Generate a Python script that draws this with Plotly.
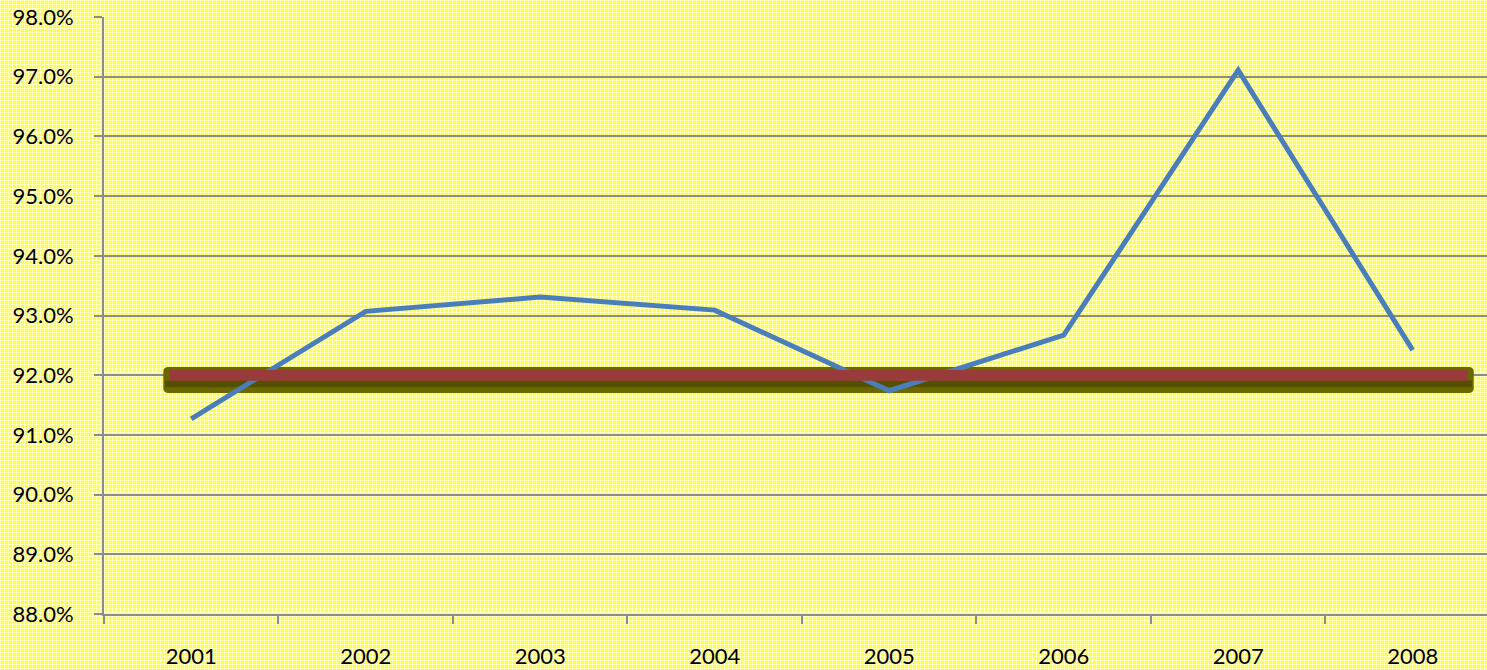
import base64
import plotly.graph_objects as go

# Yearly rate (%) and the fixed target level
years = ["2001", "2002", "2003", "2004", "2005", "2006", "2007", "2008"]
rate = [91.27, 93.07, 93.31, 93.09, 91.74, 92.67, 97.11, 92.42]
target = 92.0

y_ticks = [88, 89, 90, 91, 92, 93, 94, 95, 96, 97, 98]
y_tick_text = [f"{v:.1f}%" for v in y_ticks]

W, H = 1487, 670
ML, MR, MT, MB = 104, 0, 17, 56
GRID = "#8c8c8c"
FONT = dict(family="Lato, 'Open Sans', sans-serif", size=22, color="#000000")

# Dotted-lattice yellow fill used behind the whole chart
tile_svg = f"""<svg xmlns='http://www.w3.org/2000/svg' width='{W}' height='{H}' viewBox='0 0 {W} {H}' preserveAspectRatio='none'>
<defs><pattern id='p' width='4' height='4' patternUnits='userSpaceOnUse'>
<rect width='4' height='4' fill='#fffb55'/>
<rect width='4' height='1' fill='#ffffaa'/>
<rect width='1' height='4' fill='#ffffaa'/>
<rect width='1' height='1' fill='#ffffe0'/>
</pattern></defs>
<rect width='{W}' height='{H}' fill='url(#p)'/></svg>"""
bg_src = "data:image/svg+xml;base64," + base64.b64encode(tile_svg.encode()).decode()

pw, ph = W - ML - MR, H - MT - MB

fig = go.Figure()

fig.add_trace(go.Scatter(
    x=years, y=rate, mode="lines",
    line=dict(color="#4a7ebb", width=5),
    hoverinfo="x+y", showlegend=False,
))

# Target band: olive shadow beneath, red bar on top
x0, x1 = -0.126, 7.315
sx0, sx1 = -0.16, 7.35
rx, ry = 0.03, 0.08
top, bot = target + 0.137, target - 0.298
path = (
    f"M {sx0 + rx},{top} L {sx1 - rx},{top} Q {sx1},{top} {sx1},{top - ry} "
    f"L {sx1},{bot + ry} Q {sx1},{bot} {sx1 - rx},{bot} "
    f"L {sx0 + rx},{bot} Q {sx0},{bot} {sx0},{bot + ry} "
    f"L {sx0},{top - ry} Q {sx0},{top} {sx0 + rx},{top} Z"
)
fig.add_shape(type="path", path=path, xref="x", yref="y",
              fillcolor="#6c6800", line=dict(width=0), layer="between")
fig.add_shape(type="rect", x0=sx0 + 0.01, x1=sx1 - 0.01,
              y0=target - 0.2, y1=target - 0.09, xref="x", yref="y",
              fillcolor="#554f00", line=dict(width=0), layer="between")
fig.add_shape(type="rect", x0=x0, x1=x1,
              y0=target - 0.095, y1=target + 0.087, xref="x", yref="y",
              fillcolor="#983b3a", line=dict(width=0), layer="above")

fig.add_layout_image(
    source=bg_src, xref="paper", yref="paper",
    x=-ML / pw, y=1 + MT / ph, sizex=W / pw, sizey=H / ph,
    xanchor="left", yanchor="top", sizing="stretch", layer="below",
)

fig.update_layout(
    width=W, height=H,
    margin=dict(l=ML, r=MR, t=MT, b=MB),
    paper_bgcolor="#fffc78", plot_bgcolor="rgba(0,0,0,0)",
    font=FONT,
    showlegend=False,
)

fig.update_xaxes(
    type="category", range=[-0.5, 7.426],
    tickson="boundaries", ticks="outside", ticklen=8, tickwidth=2,
    tickcolor=GRID, showgrid=False,
    showline=True, linecolor=GRID, linewidth=2,
    ticklabelstandoff=22, tickfont=FONT,
)
fig.update_yaxes(
    range=[88, 98], tickvals=y_ticks, ticktext=y_tick_text,
    ticks="outside", ticklen=8, tickwidth=2, tickcolor=GRID,
    showgrid=True, gridcolor=GRID, gridwidth=1.5,
    showline=True, linecolor=GRID, linewidth=2,
    zeroline=False, ticklabelstandoff=16, tickfont=FONT,
)

fig.write_html("out.html")
